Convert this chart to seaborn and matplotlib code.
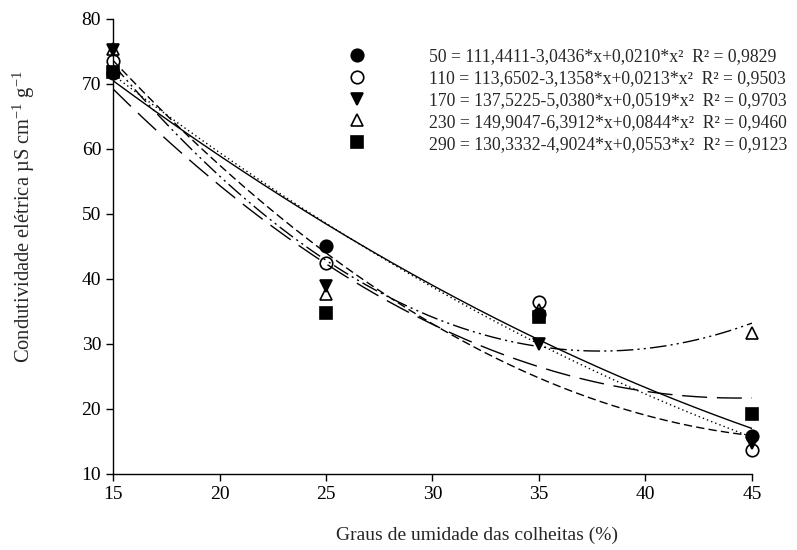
import numpy as np
import pandas as pd
import matplotlib
matplotlib.use("Agg")
import matplotlib.pyplot as plt
from matplotlib.lines import Line2D
import seaborn as sns

# ---- data ----
umidade = [15, 25, 35, 45]
doses = ["50", "110", "170", "230", "290"]
v50 = [71.7, 45.0, 34.6, 15.8]
v110 = [73.5, 42.4, 36.5, 13.7]
v170 = [75.2, 38.9, 30.0, 14.8]
v230 = [75.4, 37.7, 35.3, 31.7]
v290 = [71.9, 34.8, 34.2, 19.3]
# quadratic fits: a + b*x + c*x^2
coef_a = [111.4411, 113.6502, 137.5225, 149.9047, 130.3332]
coef_b = [-3.0436, -3.1358, -5.0380, -6.3912, -4.9024]
coef_c = [0.0210, 0.0213, 0.0519, 0.0844, 0.0553]
eq_labels = [
    "50 = 111,4411-3,0436*x+0,0210*x²  R² = 0,9829",
    "110 = 113,6502-3,1358*x+0,0213*x²  R² = 0,9503",
    "170 = 137,5225-5,0380*x+0,0519*x²  R² = 0,9703",
    "230 = 149,9047-6,3912*x+0,0844*x²  R² = 0,9460",
    "290 = 130,3332-4,9024*x+0,0553*x²  R² = 0,9123",
]
values = [v50, v110, v170, v230, v290]

sns.set_style("ticks")
plt.rcParams["font.family"] = ["Liberation Serif", "DejaVu Serif"]
plt.rcParams["mathtext.fontset"] = "custom"
plt.rcParams["mathtext.rm"] = "Liberation Serif"
plt.rcParams["mathtext.it"] = "Liberation Serif:italic"

markers = ["o", "o", "v", "^", "s"]
faces = ["black", "none", "black", "none", "black"]
sizes = [9, 9, 9, 9, 8]
lstyles = ["-", (0, (1, 2.2)), (0, (6, 3)), (0, (12, 3, 1.5, 3, 1.5, 3)), (0, (18, 7))]

fig = plt.figure(figsize=(7.97, 5.5), dpi=100)
ax = fig.add_axes([0.1418, 0.1382, 0.8017, 0.8273])

xs = np.linspace(15, 45, 300)
for i in range(5):
    fit = pd.DataFrame({"x": xs, "y": coef_a[i] + coef_b[i] * xs + coef_c[i] * xs ** 2})
    sns.lineplot(data=fit, x="x", y="y", ax=ax, color="black", lw=1.0)
    ax.lines[-1].set_linestyle(lstyles[i])

for i in range(5):
    df = pd.DataFrame({"x": umidade, "y": values[i]})
    ax.plot(df["x"], df["y"], linestyle="none", marker=markers[i],
            markersize=sizes[i], markerfacecolor=faces[i], markeredgecolor="black",
            markeredgewidth=1.2, clip_on=False, zorder=5)

ax.set_xlim(15, 45)
ax.set_ylim(10, 80)
ax.set_xticks([15, 20, 25, 30, 35, 40, 45])
ax.set_yticks([10, 20, 30, 40, 50, 60, 70, 80])
ax.tick_params(axis="both", direction="out", length=5, width=1, labelsize=14, colors="black")
for s in ["left", "bottom"]:
    ax.spines[s].set_linewidth(1)
    ax.spines[s].set_color("black")
sns.despine(ax=ax)

ax.set_xlabel("Graus de umidade das colheitas (%)", fontsize=14)
ax.set_ylabel(r"Condutividade elétrica µS cm$^{\mathregular{-1}}$ g$^{\mathregular{-1}}$", fontsize=14.8)
ax.yaxis.set_label_coords(-0.119, 0.565)
ax.xaxis.set_label_coords(0.57, -0.115)

handles = [Line2D([], [], linestyle="none", marker=markers[i], markersize=sizes[i],
                  markerfacecolor=faces[i], markeredgecolor="black", markeredgewidth=1.2)
           for i in range(5)]
leg = fig.legend(handles, eq_labels, loc="upper left", bbox_to_anchor=(0.4366, 0.913),
                 frameon=False, fontsize=12.7, handlelength=1.0, handletextpad=3.6,
                 labelspacing=0.28, borderpad=0, borderaxespad=0)

fig.savefig("out.png", dpi=100, facecolor="white")
